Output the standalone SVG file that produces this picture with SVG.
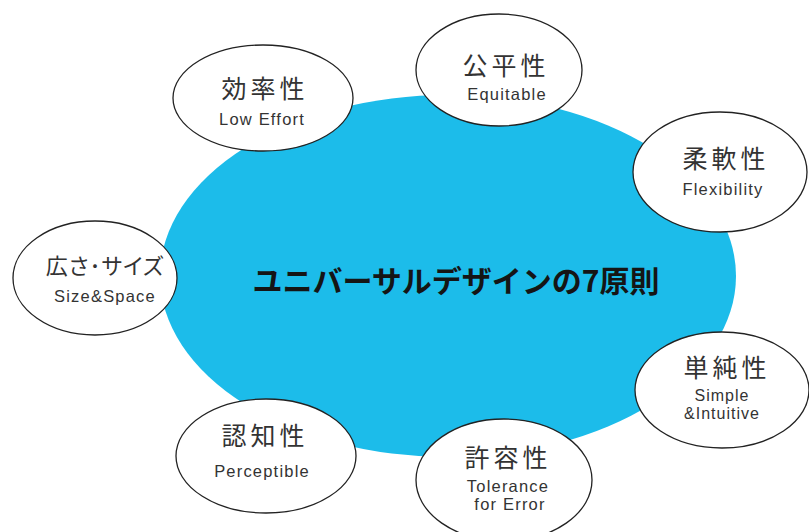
<svg xmlns="http://www.w3.org/2000/svg" width="809" height="532" viewBox="0 0 809 532">
<style>
.bub{fill:#fff;stroke:#222;stroke-width:1.3}
.jp{font-family:"Noto Sans CJK JP","Noto Sans",sans-serif;font-size:25px;letter-spacing:4px;fill:#333;text-anchor:middle}
.pal{font-size:22px;letter-spacing:1px;font-feature-settings:"palt"}
.en{font-family:"Liberation Sans","Noto Sans",sans-serif;font-size:16.5px;letter-spacing:1.2px;fill:#333;text-anchor:middle}
.sm{font-size:16px;letter-spacing:1px}
.title{font-family:"Noto Sans CJK JP",sans-serif;font-size:30px;font-weight:bold;fill:#151515;text-anchor:middle}
</style>
<rect width="809" height="532" fill="#fff"/>
<g id="center">
<ellipse cx="448" cy="276" rx="288" ry="181" fill="#1cbcea"/>
<text class="title" x="456" y="292">ユニバーサルデザインの7原則</text>
</g>
<g id="connectors"></g>
<g id="efficiency">
<ellipse class="bub" cx="263" cy="98" rx="90" ry="53"/>
<text class="jp" x="265" y="98">効率性</text>
<text class="en" x="262" y="125">Low Effort</text>
</g>
<g id="equitable">
<ellipse class="bub" cx="499" cy="70" rx="83" ry="56"/>
<text class="jp" x="506" y="75">公平性</text>
<text class="en" x="507" y="100">Equitable</text>
</g>
<g id="flexibility">
<ellipse class="bub" cx="720" cy="172" rx="87" ry="60"/>
<text class="jp" x="726" y="168">柔軟性</text>
<text class="en" x="723" y="195">Flexibility</text>
</g>
<g id="size">
<ellipse class="bub" cx="95" cy="278" rx="82" ry="57"/>
<text class="jp pal" x="105" y="274">広さ･サイズ</text>
<text class="en" x="105" y="302">Size&amp;Space</text>
</g>
<g id="simple">
<ellipse class="bub" cx="722" cy="390" rx="87" ry="58"/>
<text class="jp" x="727" y="377">単純性</text>
<text class="en sm" x="722" y="401">Simple</text>
<text class="en sm" x="722" y="419">&amp;Intuitive</text>
</g>
<g id="tolerance">
<ellipse class="bub" cx="504" cy="480" rx="88" ry="61"/>
<text class="jp" x="508" y="467">許容性</text>
<text class="en" x="508" y="492">Tolerance</text>
<text class="en" x="510" y="510">for Error</text>
</g>
<g id="perceptible">
<ellipse class="bub" cx="266" cy="456" rx="90" ry="57"/>
<text class="jp" x="265" y="445">認知性</text>
<text class="en" x="262" y="477">Perceptible</text>
</g>
</svg>
